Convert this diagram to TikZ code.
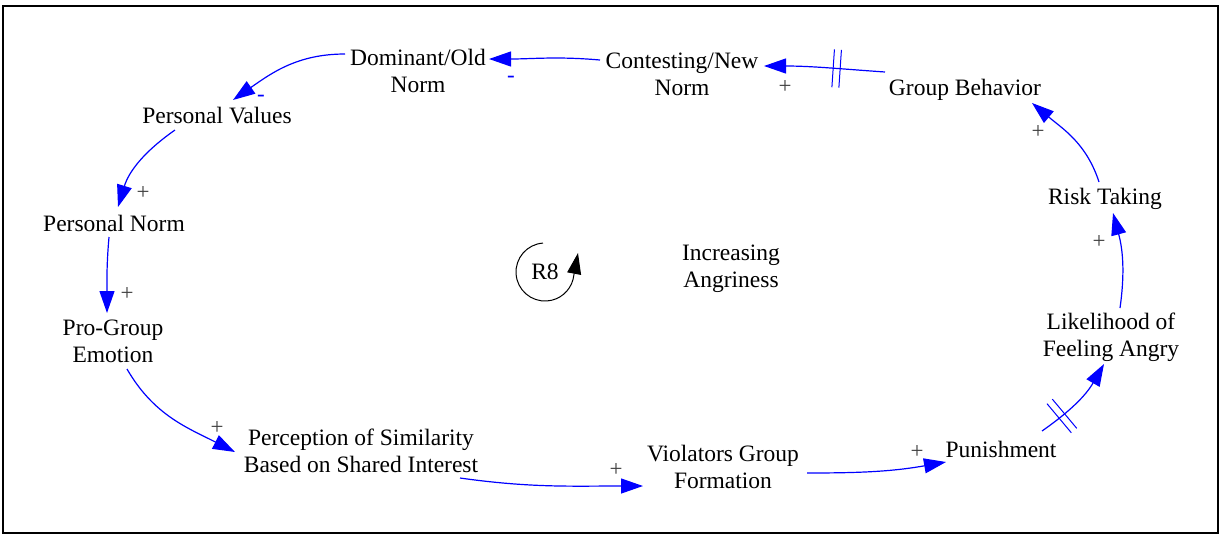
\documentclass[tikz,border=0pt]{standalone}
\usepackage{fontspec}
\setmainfont{Liberation Serif}
\usetikzlibrary{arrows.meta,decorations.markings}

\begin{document}
\begin{tikzpicture}[x=1pt,y=1pt,
  var/.style={font=\fontsize{23.5}{27}\selectfont, align=center, inner sep=0pt, text=black},
  pol/.style={font=\fontsize{23}{27}\selectfont, inner sep=0pt, text=black!75},
  neg/.style={font=\fontsize{23}{27}\selectfont, inner sep=0pt, text=blue},
  link/.style={draw=blue, line width=1.2pt, -{Triangle[length=22pt,width=15pt]}},
  delaymark/.style={postaction={decorate, decoration={markings,
      mark=at position #1 with {\draw[blue, line width=1pt, -] (-3.5,-19) -- (-3.5,19) (3.5,-19) -- (3.5,19);}}}},
  loopmark/.style={draw=black, line width=1pt, -{Triangle[length=21pt,width=14pt]}},
]
\useasboundingbox (0,0) rectangle (1225,-539);
\draw[line width=1.8pt] (3,-6) rectangle (1218,-533);

% variables
\node[var] (gb) at (965,-90) {Group Behavior};
\node[var] (cn) at (682,-74) {Contesting/New\\Norm};
\node[var] (dn) at (418,-71) {Dominant/Old\\Norm};
\node[var] (pv) at (217,-116) {Personal Values};
\node[var] (pn) at (114,-223) {Personal Norm};
\node[var] (pg) at (113,-341) {Pro-Group\\Emotion};
\node[var] (ps) at (361,-451) {Perception of Similarity\\Based on Shared Interest};
\node[var] (vg) at (723,-467) {Violators Group\\Formation};
\node[var] (pu) at (1001,-449) {Punishment};
\node[var] (lf) at (1111,-337) {Likelihood of\\Feeling Angry};
\node[var] (rt) at (1105,-199) {Risk Taking};
\node[var] (ia) at (731,-269) {Increasing\\Angriness};
\node[var] (r8) at (545,-272) {R8};

% causal links
\draw[link, delaymark=0.4] ([shift={(-80,18)}]gb.center) to[out=176,in=0] ([shift={(82,8)}]cn.center);
\draw[link] ([shift={(-82,14)}]cn.center) to[out=175,in=0] ([shift={(71,12)}]dn.center);
\draw[link] ([shift={(-73,17)}]dn.center) to[out=180,in=35] ([shift={(16,16)}]pv.center);
\draw[link] ([shift={(-42,-14)}]pv.center) to[out=215,in=73] ([shift={(4,16)}]pn.center);
\draw[link] ([shift={(-5,-14)}]pn.center) to[out=265,in=90] ([shift={(-6,28)}]pg.center);
\draw[link] ([shift={(14,-28)}]pg.center) to[out=300,in=153] ([shift={(-126,-1)}]ps.center);
\draw[link] ([shift={(99,-27)}]ps.center) to[out=-8,in=180] ([shift={(-80,-19)}]vg.center);
\draw[link] ([shift={(84,-6)}]vg.center) to[out=0,in=190] ([shift={(-55,-13)}]pu.center);
\draw[link, delaymark=0.27] ([shift={(41,18)}]pu.center) to[out=35,in=240] ([shift={(-7,-27)}]lf.center);
\draw[link] ([shift={(9,29)}]lf.center) to[out=82,in=-75] ([shift={(8,-14)}]rt.center);
\draw[link] ([shift={(-6,17)}]rt.center) to[out=108,in=-40] ([shift={(67,-13)}]gb.center);

% polarities
\node[pol] (p1) at (785,-87) {+};
\node[neg] (m1) at (511,-79) {-};
\node[neg] (m2) at (261,-98) {-};
\node[pol] (p2) at (143,-193) {+};
\node[pol] (p3) at (127,-294) {+};
\node[pol] (p4) at (217,-428) {+};
\node[pol] (p5) at (616,-470) {+};
\node[pol] (p6) at (917,-452) {+};
\node[pol] (p7) at (1099,-242) {+};
\node[pol] (p8) at (1038,-132) {+};

% loop marker
\draw[loopmark] ([shift={(94:29)}]r8.center) arc[start angle=94, end angle=345, radius=29]
  -- ([shift={(33,19)}]r8.center);
\end{tikzpicture}
\end{document}
